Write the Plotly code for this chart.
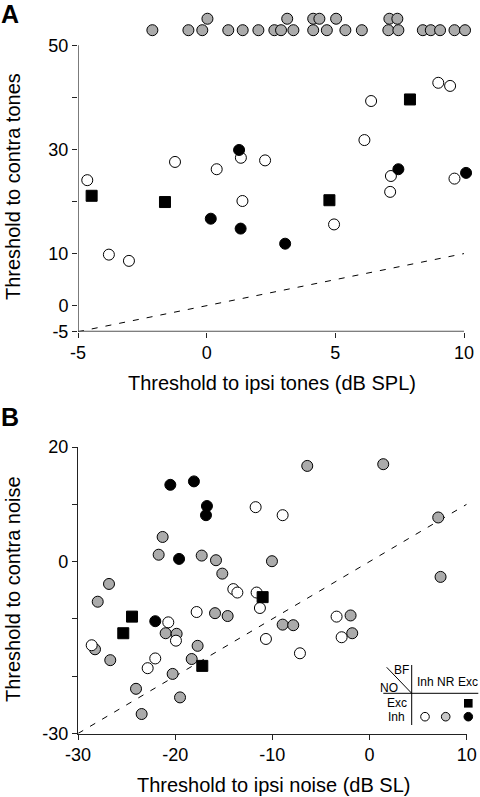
import plotly.graph_objects as go

W, H = 480, 797
FONT = "Liberation Sans, Arial, Helvetica, sans-serif"
GRAY = "#ababab"

# ---------------- Panel A data (tones) ----------------
a_nr_x = [-2.11, -0.71, -0.17, 0.84, 1.40, 2.01, 2.63, 2.89, 3.37, 4.14,
          4.67, 5.39, 6.03, 7.06, 7.45, 8.40, 8.71, 9.07, 9.63, 10.04,
          0.03, 3.13, 4.14, 4.38, 5.03, 7.10, 7.41]
a_nr_y = [52.9, 52.9, 52.9, 52.9, 52.9, 52.9, 52.9, 52.9, 52.9, 52.9,
          52.9, 52.9, 52.9, 52.9, 52.9, 52.9, 52.9, 52.9, 52.9, 52.9,
          55.1, 55.1, 55.1, 55.1, 55.1, 55.1, 55.1]
a_inh_x = [-4.64, -1.23, 0.39, 1.33, 2.27, 1.39, 6.39, 6.13, 9.00, 9.46,
           7.16, 7.13, 9.63, 4.95, -3.80, -3.02]
a_inh_y = [24.1, 27.6, 26.2, 28.4, 27.9, 20.1, 39.3, 31.8, 42.8, 42.2,
           24.9, 21.85, 24.4, 15.6, 9.8, 8.6]
a_exc_x = [1.26, 7.45, 10.08, 0.16, 1.32, 3.05]
a_exc_y = [29.9, 26.2, 25.5, 16.7, 14.8, 11.9]
a_sq_x = [-4.47, -1.62, 4.77, 7.90]
a_sq_y = [21.1, 19.9, 20.25, 39.6]
a_diag = [-5, 10]

# ---------------- Panel B data (noise) ----------------
b_nr_x = [-6.41, 1.41, 7.07, -21.29, -21.7, -17.27, -15.8, -10.04, -15.15, 7.31,
          -26.81, -27.97, -28.25, -26.68, -20.98, -19.85, -17.69, -15.9, -14.6, -18.3,
          -20.26, -24.03, -19.5, -23.45, -8.94, -7.85, -1.95, -1.78]
b_nr_y = [16.7, 17.0, 7.7, 4.3, 1.2, 1.05, 0.24, 0.07, -2.1, -2.67,
          -3.9, -7.0, -15.3, -17.2, -12.5, -12.6, -14.7, -9.0, -9.5, -17.0,
          -19.6, -22.2, -23.7, -26.6, -11.0, -11.1, -9.4, -12.5]
b_inh_x = [-11.72, -8.94, -14.02, -13.6, -11.62, -11.28, -17.79, -20.71, -19.92, -28.59,
           -22.05, -22.83, -10.66, -7.16, -3.39, -2.87]
b_inh_y = [9.5, 8.1, -4.8, -5.4, -5.4, -8.1, -8.8, -10.6, -13.8, -14.6,
           -16.9, -18.6, -13.5, -16.0, -9.6, -13.2]
b_exc_x = [-20.5, -18.07, -16.73, -16.83, -19.6, -22.05]
b_exc_y = [13.4, 14.0, 9.7, 8.1, 0.47, -10.4]
b_sq_x = [-11.0, -24.44, -25.34, -17.21]
b_sq_y = [-6.2, -9.6, -12.5, -18.2]
b_diag = [-30, 10]

a_yticks = [-5, 0, 10, 20, 30, 40, 50]
a_ytext = ["-5", "0", "10", "", "30", "", "50"]
a_xticks = [-5, 0, 5, 10]
b_yticks = [-30, -20, -10, 0, 10, 20]
b_ytext = ["-30", "", "", "0", "", "20"]
b_xticks = [-30, -20, -10, 0, 10]

# axis extents (panel A axes are drawn only over the labelled span)
a_xspan = [-5, 10]
a_yspan = [-5, 50]
A_XRANGE = [-5, 10.6]
A_YRANGE = [-5, 56.8]


def px(x):
    return x / W


def py(y):
    return 1 - y / H


# pixel geometry of panel A (from the reference)
AX0, AX1 = 78.0, 464.0          # x=-5 .. x=10
AY0, AY1 = 331.7, 45.3          # y=-5 .. y=50
ax_scale = (AX1 - AX0) / (a_xspan[1] - a_xspan[0])
ay_scale = (AY0 - AY1) / (a_yspan[1] - a_yspan[0])
a_dom_x1 = AX0 + (A_XRANGE[1] - A_XRANGE[0]) * ax_scale
a_dom_y1 = AY0 - (A_YRANGE[1] - A_YRANGE[0]) * ay_scale

fig = go.Figure()

MS = 11
circ_line = dict(color="black", width=1)


def add_points(x, y, xa, ya, color, symbol="circle", size=MS):
    fig.add_trace(go.Scatter(
        x=x, y=y, mode="markers", xaxis=xa, yaxis=ya, cliponaxis=False,
        showlegend=False, hoverinfo="x+y",
        marker=dict(symbol=symbol, size=size, color=color, line=circ_line)))


# diagonal reference lines
fig.add_trace(go.Scatter(x=a_diag, y=a_diag, mode="lines", xaxis="x", yaxis="y",
                         line=dict(color="black", width=1, dash="6px,8px"),
                         showlegend=False, hoverinfo="skip"))
fig.add_trace(go.Scatter(x=b_diag, y=b_diag, mode="lines", xaxis="x2", yaxis="y2",
                         line=dict(color="black", width=1, dash="6px,8px"),
                         showlegend=False, hoverinfo="skip"))

add_points(a_nr_x, a_nr_y, "x", "y", GRAY)
add_points(a_inh_x, a_inh_y, "x", "y", "white")
add_points(a_exc_x, a_exc_y, "x", "y", "black")
add_points(a_sq_x, a_sq_y, "x", "y", "black", "square", 11)

add_points(b_nr_x, b_nr_y, "x2", "y2", GRAY)
add_points(b_inh_x, b_inh_y, "x2", "y2", "white")
add_points(b_exc_x, b_exc_y, "x2", "y2", "black")
add_points(b_sq_x, b_sq_y, "x2", "y2", "black", "square", 11)

axis_common = dict(showgrid=False, zeroline=False, showline=True, linecolor="#222",
                   linewidth=1.2, ticks="outside", ticklen=5, tickwidth=1,
                   tickcolor="#222", tickfont=dict(size=18, color="black", family=FONT),
                   fixedrange=True, automargin=False)

fig.update_layout(
    template="none",
    width=W, height=H, margin=dict(l=0, r=0, t=0, b=0, pad=0),
    paper_bgcolor="white", plot_bgcolor="rgba(0,0,0,0)",
    font=dict(family=FONT, color="black"),
    xaxis=dict(domain=[px(AX0), px(a_dom_x1)], range=A_XRANGE, anchor="y",
               tickvals=a_xticks, ticktext=[str(v) for v in a_xticks],
               **{**axis_common, "showline": False}),
    yaxis=dict(domain=[py(AY0), py(a_dom_y1)], range=A_YRANGE, anchor="x",
               tickvals=a_yticks, ticktext=a_ytext, **{**axis_common, "showline": False}),
    xaxis2=dict(domain=[px(78), px(466.7)], range=[-30, 10], anchor="y2",
                tickvals=b_xticks, ticktext=[str(v) for v in b_xticks], **axis_common),
    yaxis2=dict(domain=[py(733.5), py(447)], range=[-30, 20], anchor="x2",
                tickvals=b_yticks, ticktext=b_ytext, **axis_common),
)

ann = []
# panel letters
ann.append(dict(text="<b>A</b>", x=px(10), y=py(14), font=dict(size=25)))
ann.append(dict(text="<b>B</b>", x=px(10), y=py(417), font=dict(size=25)))
# axis titles
ann.append(dict(text="Threshold to ipsi tones (dB SPL)", x=px(271.5), y=py(383), font=dict(size=20)))
ann.append(dict(text="Threshold to contra tones", x=px(13), y=py(187), textangle=-90, font=dict(size=20)))
ann.append(dict(text="Threshold to ipsi noise (dB SL)", x=px(273), y=py(785), font=dict(size=20)))
ann.append(dict(text="Threshold to contra noise", x=px(13), y=py(589), textangle=-90, font=dict(size=20)))
# legend table text
leg_font = dict(size=12)
ann.append(dict(text="BF", x=px(401), y=py(669.5), font=leg_font))
ann.append(dict(text="NO", x=px(389), y=py(687.5), font=leg_font))
ann.append(dict(text="Inh", x=px(425), y=py(681.7), font=leg_font))
ann.append(dict(text="NR", x=px(445.7), y=py(681.7), font=leg_font))
ann.append(dict(text="Exc", x=px(468.3), y=py(681.7), font=leg_font))
ann.append(dict(text="Exc", x=px(396.7), y=py(703.3), font=leg_font))
ann.append(dict(text="Inh", x=px(396.7), y=py(716.7), font=leg_font))
for a in ann:
    a.update(xref="paper", yref="paper", showarrow=False, xanchor="center", yanchor="middle")
    a["font"] = dict(family=FONT, color="black", **a["font"])
fig.update_layout(annotations=ann)

shapes = []
# panel A axis lines over the labelled span only
shapes.append(dict(type="line", xref="x", yref="y", x0=a_xspan[0], x1=a_xspan[1],
                   y0=a_yspan[0], y1=a_yspan[0], line=dict(color="#555", width=2)))
shapes.append(dict(type="line", xref="x", yref="y", x0=a_xspan[0], x1=a_xspan[0],
                   y0=a_yspan[0], y1=a_yspan[1], line=dict(color="#222", width=1.2)))
# legend lines
legend_lines = [((386.7, 667.3), (411.7, 693.3)),
                ((411.7, 665), (411.7, 725)),
                ((383.3, 693.3), (478.3, 693.3))]
for (x0, y0), (x1, y1) in legend_lines:
    shapes.append(dict(type="line", xref="paper", yref="paper", x0=px(x0), y0=py(y0),
                       x1=px(x1), y1=py(y1), line=dict(color="black", width=1)))


def circ(cx, cy, r, fill):
    return dict(type="circle", xref="paper", yref="paper",
                x0=px(cx - r), x1=px(cx + r), y0=py(cy - r), y1=py(cy + r),
                fillcolor=fill, line=dict(color="black", width=1))


shapes.append(dict(type="rect", xref="paper", yref="paper",
                   x0=px(464), x1=px(472.6), y0=py(699), y1=py(707.6),
                   fillcolor="black", line=dict(color="black", width=0)))
shapes.append(circ(425, 716.7, 4.3, "white"))
shapes.append(circ(445.7, 716.7, 4.3, "#c8c8c8"))
shapes.append(circ(468.3, 716.7, 4.3, "black"))
fig.update_layout(shapes=shapes)

# remove the browser's default 8px page margin so the figure sits at the window's origin
fig.write_html("out.html",
               config={"displayModeBar": False},
               post_script="document.body.style.margin='0';document.body.style.overflow='hidden';")
